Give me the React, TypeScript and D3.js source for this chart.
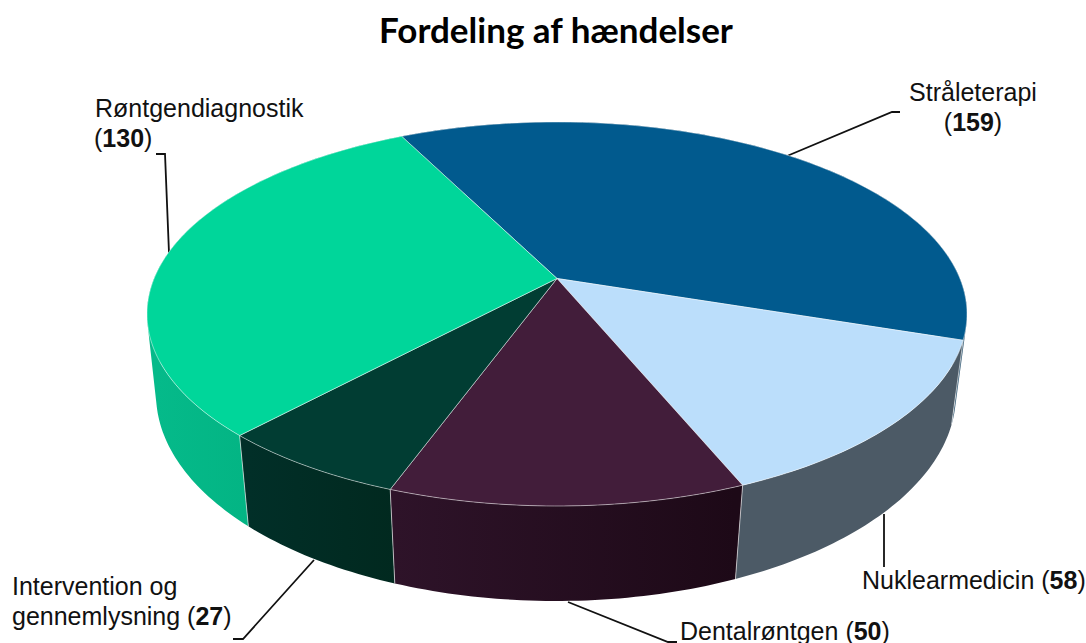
import React from "react";
import * as d3 from "d3";

const categories = ["Stråleterapi", "Nuklearmedicin", "Dentalrøntgen", "Intervention og gennemlysning", "Røntgendiagnostik"];
const values = [159, 58, 50, 27, 130];
const topColors = ["#015A8E", "#BBDEFB", "#421D3A", "#013D33", "#00D69A"];
const wallFrom = ["#3A5F78", "#4C5A66", "#2E1329", "#012F28", "#05BA8A"];
const wallTo = ["#3A5F78", "#4C5A66", "#1D0917", "#01291F", "#00AB79"];

const W = 1086, H = 643;
const top = { cx: 557, cy: 314, rx: 410, ry: 192, a: 0.185 };
const bottom = { cx: 556, cy: 394, rx: 400, ry: 207, a: 0.175 };
type Ell = typeof top;

// Perspective projection of a point on a flat disc (angle clockwise from the back) onto the screen
function project(e: Ell, theta: number, r = 1): [number, number] {
  const u = r * Math.sin(theta), v = r * Math.cos(theta);
  const d = 1 + e.a * v;
  const Y = (v + e.a) / d;
  const X = (u * Math.sqrt(1 - e.a * e.a)) / d;
  return [e.cx + e.rx * X, e.cy - e.ry * Y];
}

const START = (-26.7 * Math.PI) / 180;
const arcs = d3.pie<number>().sort(null).startAngle(START).endAngle(START + 2 * Math.PI)(values);
const line = d3.line();
const STEP = Math.PI / 180;

function samples(a0: number, a1: number) {
  const n = Math.max(2, Math.ceil((a1 - a0) / STEP));
  return d3.range(n + 1).map((i) => a0 + ((a1 - a0) * i) / n);
}

// back-to-front painting order for the walls
const wallOrder = [0, 4, 1, 3, 2];

const leaders: [number, number][][] = [
  [[900, 112], [892, 112], [787, 156]],
  [[884, 514], [884, 567]],
  [[568, 602], [668, 642], [677, 642]],
  [[314, 560], [243, 639], [233, 639]],
  [[156, 154], [165, 154], [169, 253]],
];

const edge = "rgba(255,255,255,0.6)";

export default function App() {
  return (
    <svg width={W} height={H} style={{ position: "absolute", left: 0, top: 0, background: "#fff" }}
      fontFamily="'Liberation Sans', Arial, sans-serif" fontSize={25} fill="#111">
      <defs>
        {arcs.map((arc, i) => {
          const xs = samples(arc.startAngle, arc.endAngle).map((t) => project(bottom, t)[0]);
          const [x0, x1] = d3.extent(xs) as [number, number];
          return (
            <linearGradient key={i} id={`wall${i}`} gradientUnits="userSpaceOnUse" x1={x0} x2={x1} y1={0} y2={0}>
              <stop offset="0" stopColor={wallFrom[i]} />
              <stop offset="1" stopColor={wallTo[i]} />
            </linearGradient>
          );
        })}
      </defs>

      <text x={556} y={43} textAnchor="middle" fontFamily="Lato, sans-serif" fontWeight={700} fontSize={35} fill="#000">
        Fordeling af hændelser
      </text>

      {leaders.map((pts, i) => (
        <path key={i} d={line(pts) as string} fill="none" stroke="#111" strokeWidth={1.8} />
      ))}

      {wallOrder.map((i) => {
        const arc = arcs[i];
        const ts = samples(arc.startAngle, arc.endAngle);
        // all strips share one path, oriented alike, so no seams appear between them
        const d = ts.slice(0, -1).map((t, k) => {
          const t2 = ts[k + 1];
          const quad: [number, number][] = [project(top, t), project(top, t2), project(bottom, t2), project(bottom, t)];
          const [[ax, ay], [bx, by], [cx, cy]] = quad;
          const area = (bx - ax) * (cy - ay) - (by - ay) * (cx - ax);
          return line(area < 0 ? quad.slice().reverse() : quad) + "Z";
        }).join("");
        return <path key={i} d={d} fill={`url(#wall${i})`} fillRule="nonzero" />;
      })}
      {arcs.map((arc, i) => (
        <path key={i} d={line([project(top, arc.startAngle), project(bottom, arc.startAngle)]) as string}
          stroke={edge} strokeWidth={1} fill="none" />
      ))}

      {arcs.map((arc, i) => {
        const pts = [project(top, 0, 0), ...samples(arc.startAngle, arc.endAngle).map((t) => project(top, t))];
        return <path key={i} d={line(pts as [number, number][]) + "Z"} fill={topColors[i]} stroke={edge} strokeWidth={0.8} />;
      })}

      <text x={973} y={101} textAnchor="middle">{categories[0]}</text>
      <text x={973} y={131} textAnchor="middle">(<tspan fontWeight={700}>{values[0]}</tspan>)</text>
      <text x={862} y={589}>{categories[1]} (<tspan fontWeight={700}>{values[1]}</tspan>)</text>
      <text x={680} y={640}>{categories[2]} (<tspan fontWeight={700}>{values[2]}</tspan>)</text>
      <text x={12} y={595}>Intervention og</text>
      <text x={12} y={625}>gennemlysning (<tspan fontWeight={700}>{values[3]}</tspan>)</text>
      <text x={95} y={117}>{categories[4]}</text>
      <text x={94} y={147}>(<tspan fontWeight={700}>{values[4]}</tspan>)</text>
    </svg>
  );
}
